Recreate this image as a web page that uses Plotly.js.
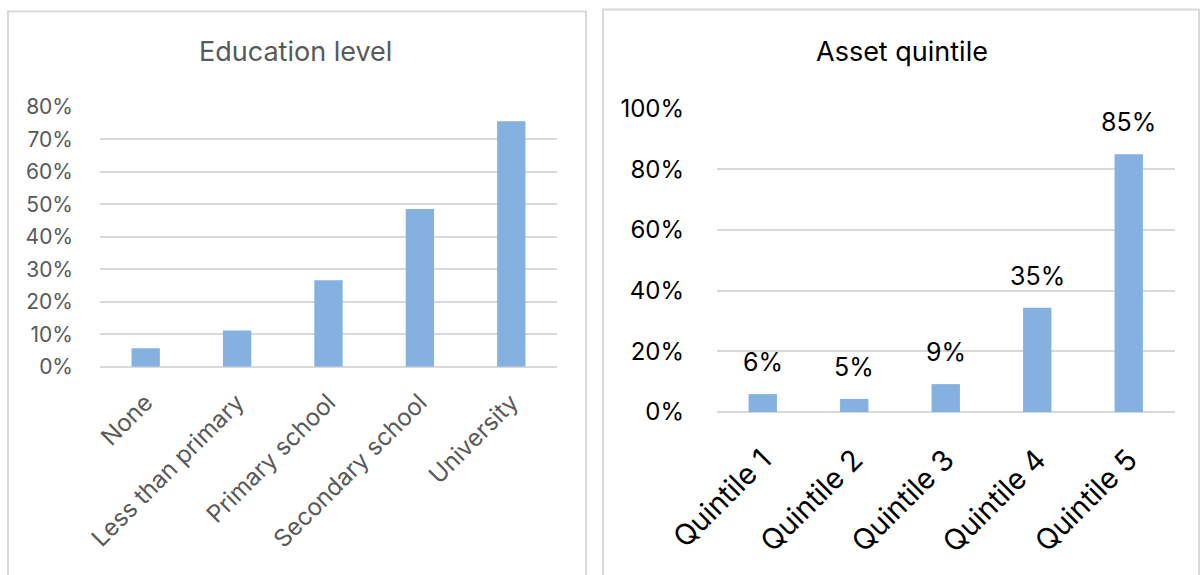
<!DOCTYPE html>
<html>
<head>
<meta charset="utf-8">
<script src="https://cdn.plot.ly/plotly-3.0.1.min.js"></script>
<style>html,body{margin:0;padding:0;background:#fff;}#chart{width:1200px;height:575px;}</style>
</head>
<body>
<div id="chart"></div>
<script>
const eduCategories = ['None', 'Less than primary', 'Primary school', 'Secondary school', 'University'];
const eduValues = [0.057, 0.111, 0.266, 0.485, 0.755];
const eduTickVals = [0, 0.1, 0.2, 0.3, 0.4, 0.5, 0.6, 0.7, 0.8];

const quintileCategories = ['Quintile 1', 'Quintile 2', 'Quintile 3', 'Quintile 4', 'Quintile 5'];
const quintileValues = [0.059, 0.043, 0.092, 0.344, 0.85];
const quintileLabels = ['6%', '5%', '9%', '35%', '85%'];
const quintileTickVals = [0, 0.2, 0.4, 0.6, 0.8, 1.0];

const titles = ['Education level', 'Asset quintile'];

const FONT = 'Inter, "Open Sans", sans-serif';
const BAR = '#84B1E0';
const GRID = '#d9d9d9';
const GREY = '#595959';

const traces = [
  {type: 'bar', x: eduCategories, y: eduValues, xaxis: 'x', yaxis: 'y',
   marker: {color: BAR}, width: 0.31, hoverinfo: 'skip'},
  {type: 'bar', x: quintileCategories, y: quintileValues, xaxis: 'x2', yaxis: 'y2',
   marker: {color: BAR}, width: 0.31, hoverinfo: 'skip'}
];

const annotations = [
  {text: titles[0], xref: 'paper', yref: 'paper', x: 295/1200, y: 1 - 51/575,
   xanchor: 'center', yanchor: 'middle', showarrow: false,
   font: {family: FONT, size: 27, color: GREY}},
  {text: titles[1], xref: 'paper', yref: 'paper', x: 902/1200, y: 1 - 51/575,
   xanchor: 'center', yanchor: 'middle', showarrow: false,
   font: {family: FONT, size: 27, color: '#000'}}
];
quintileCategories.forEach((c, i) => {
  annotations.push({text: quintileLabels[i], x: c, y: quintileValues[i], xref: 'x2', yref: 'y2',
    xanchor: 'center', yanchor: 'middle', yshift: 32, showarrow: false,
    font: {family: FONT, size: 25, color: '#000'}});
});

const layout = {
  width: 1200, height: 575,
  margin: {l: 0, r: 0, t: 0, b: 0},
  paper_bgcolor: '#fff', plot_bgcolor: 'rgba(0,0,0,0)',
  showlegend: false,
  font: {family: FONT},
  bargap: 0.69,
  xaxis: {domain: [100/1200, 557/1200], anchor: 'y', type: 'category',
    tickangle: -45, showgrid: false, zeroline: false, showline: false, ticks: '',
    ticklabelstandoff: 16,
    tickfont: {family: FONT, size: 24, color: GREY}, fixedrange: true},
  yaxis: {domain: [1 - 366.7/575, 1 - 106.7/575], anchor: 'x', range: [0, 0.8],
    tickvals: eduTickVals, tickformat: '.0%', showgrid: true, gridcolor: GRID, gridwidth: 2,
    zeroline: true, zerolinecolor: GRID, zerolinewidth: 2, showline: false, ticks: '',
    ticklabelstandoff: 26,
    tickfont: {family: FONT, size: 21, color: GREY}, fixedrange: true},
  xaxis2: {domain: [717/1200, 1174.5/1200], anchor: 'y2', type: 'category',
    tickangle: -45, showgrid: false, zeroline: false, showline: false, ticks: '',
    ticklabelstandoff: 24,
    tickfont: {family: FONT, size: 29, color: '#000'}, fixedrange: true},
  yaxis2: {domain: [1 - 412/575, 1 - 108.7/575], anchor: 'x2', range: [0, 1],
    tickvals: quintileTickVals, tickformat: '.0%', showgrid: true, gridcolor: GRID, gridwidth: 2,
    zeroline: true, zerolinecolor: GRID, zerolinewidth: 2, showline: false, ticks: '',
    ticklabelstandoff: 32,
    tickfont: {family: FONT, size: 24, color: '#000'}, fixedrange: true},
  annotations: annotations,
  shapes: [
    {type: 'rect', xref: 'paper', yref: 'paper', x0: 8/1200, x1: 586/1200, y0: -0.02, y1: 1 - 11.5/575,
     line: {color: GRID, width: 2}, fillcolor: 'rgba(0,0,0,0)', layer: 'below'},
    {type: 'rect', xref: 'paper', yref: 'paper', x0: 603/1200, x1: 1199/1200, y0: -0.02, y1: 1 - 9.5/575,
     line: {color: GRID, width: 2}, fillcolor: 'rgba(0,0,0,0)', layer: 'below'}
  ]
};

Plotly.newPlot('chart', traces, layout, {displayModeBar: false, staticPlot: true});
</script>
</body>
</html>
